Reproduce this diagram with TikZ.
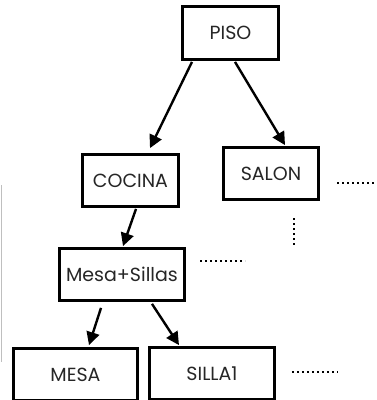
\documentclass[tikz,border=0pt]{standalone}
\usepackage{fontspec}
\setmainfont{Poppins}
\usetikzlibrary{arrows.meta}
\begin{document}
\begin{tikzpicture}[x=1pt,y=-1pt,
  box/.style={draw=black,line width=2.8pt,fill=white,inner sep=0pt,
    font=\fontsize{19}{22}\selectfont,text=black!85},
  arr/.style={line width=2.4pt,-{Triangle[length=13pt,width=13pt]}},
  dots/.style={line width=2.2pt,dash pattern=on 2pt off 3pt}]
\useasboundingbox (0,0) rectangle (376,400);
\draw[black!25,line width=1.2pt] (1.5,185) -- (1.5,362);
\node[box,minimum width=96pt,minimum height=53pt] (piso) at (230.5,33) {PISO};
\node[box,minimum width=96pt,minimum height=52pt] (cocina) at (130.5,180.5) {COCINA};
\node[box,minimum width=95pt,minimum height=52pt] (salon) at (271,173.5) {SALON};
\node[box,minimum width=125pt,minimum height=52pt] (mesas) at (122,274.5) {Mesa+Sillas};
\node[box,minimum width=124pt,minimum height=52pt] (mesa) at (75.5,374.5) {MESA};
\node[box,minimum width=125pt,minimum height=52pt] (silla) at (212,373.5) {SILLA1};
\draw[arr] ([xshift=-38.5pt,yshift=-1pt]piso.south) -- ([xshift=19.5pt,yshift=5pt]cocina.north);
\draw[arr] ([xshift=4.5pt,yshift=-1pt]piso.south) -- ([xshift=14pt,yshift=1pt]salon.north);
\draw[arr] ([xshift=5.5pt,yshift=-1pt]cocina.south) -- ([xshift=1pt,yshift=1pt]mesas.north);
\draw[arr] ([xshift=-21pt,yshift=-6pt]mesas.south) -- ([xshift=13.5pt,yshift=2pt]mesa.north);
\draw[arr] ([xshift=30pt,yshift=-2pt]mesas.south) -- ([xshift=-33pt,yshift=1pt]silla.north);
\coordinate (d1a) at (337,183); \coordinate (d1b) at (376,183);
\coordinate (d2a) at (294,218); \coordinate (d2b) at (294,245);
\coordinate (d3a) at (200,261); \coordinate (d3b) at (245,261);
\coordinate (d4a) at (292,372); \coordinate (d4b) at (338,372);
\draw[dots] (d1a) -- (d1b);
\draw[dots] (d2a) -- (d2b);
\draw[dots] (d3a) -- (d3b);
\draw[dots] (d4a) -- (d4b);
\end{tikzpicture}
\end{document}
